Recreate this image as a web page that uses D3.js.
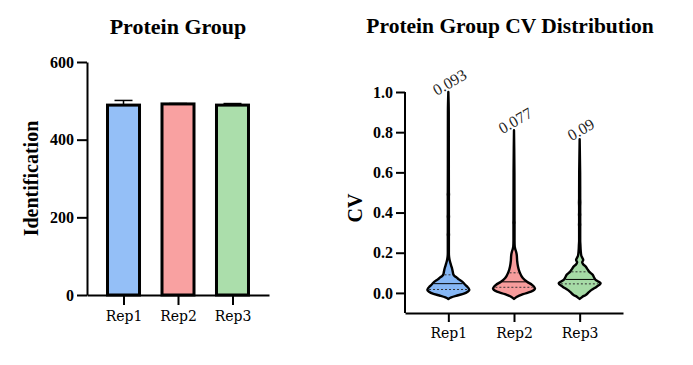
<!DOCTYPE html>
<html><head><meta charset="utf-8">
<script src="https://cdn.jsdelivr.net/npm/d3@7"></script>
<style>
html,body{margin:0;padding:0;background:#fff;}
svg{display:block;}
</style></head>
<body>
<svg id="chart" width="693" height="365"></svg>
<script>
// ---------------- data ----------------
const categories = ["Rep1", "Rep2", "Rep3"];
const barColors = ["#94BFF7", "#F9A1A1", "#ABDEAB"];
const violinColors = ["#86B7F5", "#F79C9C", "#A6DBA6"];

// Left panel: identified protein groups
const pgMeans = [489, 492, 489];
const pgErrors = [12, 1, 4];
const pgTicks = [0, 200, 400, 600];

// Right panel: CV distribution
const cvTicks = [0.0, 0.2, 0.4, 0.6, 0.8, 1.0];
const cvLabels = ["0.093", "0.077", "0.09"];
const cvMax = [1.0, 0.81, 0.765];
const cvMedian = [0.046, 0.055, 0.067];
const cvQ1 = [0.017, 0.028, 0.045];
const cvQ3 = [0.09, 0.1, 0.105];

// violin density profiles: [cv, relative density]
const densityRep1 = [[-0.03,0],[-0.022,14],[-0.013,42],[-0.004,74],[0.006,92],[0.015,100],[0.024,96],[0.031,90],[0.043,78],[0.056,66],[0.066,52],[0.076,40],[0.084,30],[0.092,24],[0.106,21],[0.12,18],[0.131,15],[0.148,10],[0.164,6],[0.18,3.5],[0.2,2.5],[0.28,2.5],[0.29,3.2],[0.3,2.5],[0.37,2.5],[0.38,3.2],[0.39,2.5],[0.48,2.5],[0.49,3.2],[0.5,2.5],[0.7,2.2],[0.9,2],[1.0,0]];
const densityRep2 = [[-0.03,0],[-0.02,12],[-0.006,43],[0.006,81],[0.023,100],[0.04,86],[0.056,62],[0.073,43],[0.085,35],[0.098,29],[0.115,23],[0.131,19],[0.16,15],[0.19,13],[0.205,10],[0.215,7],[0.23,3.5],[0.26,2.5],[0.34,2.5],[0.35,3],[0.36,2.5],[0.6,2],[0.81,0]];
const densityRep3 = [[-0.03,0],[-0.02,12],[-0.01,29],[0.005,45],[0.015,57],[0.031,81],[0.048,100],[0.058,86],[0.065,76],[0.078,68],[0.09,62],[0.106,45],[0.12,36],[0.131,29],[0.142,17],[0.152,12],[0.164,17],[0.174,13],[0.185,8],[0.21,5],[0.24,3.5],[0.26,2.5],[0.33,2.5],[0.34,3.2],[0.35,2.5],[0.38,2.5],[0.39,3.2],[0.4,2.5],[0.43,2.5],[0.45,3.2],[0.47,2.5],[0.5,2.5],[0.6,2.2],[0.765,0]];
const densities = [densityRep1, densityRep2, densityRep3];

// ---------------- drawing ----------------
const svg = d3.select("#chart");
svg.append("rect").attr("width", 693).attr("height", 365).attr("fill", "#fff");
const FONT = "Liberation Serif, Times New Roman, serif";
const CATFONT = "DejaVu Serif, serif";

function styleAxis(g) {
  g.attr("font-family", null).attr("font-size", null);
  g.selectAll(".domain").attr("stroke", "#000").attr("stroke-width", 2);
  g.selectAll(".tick line").attr("stroke", "#000").attr("stroke-width", 2);
}

// ===== Left panel =====
const L = {x0: 87, x1: 269, y0: 295, y1: 62};
const xL = d3.scalePoint().domain(categories).range([L.x0, L.x1]).padding(0.67);
const yL = d3.scaleLinear().domain([0, 600]).range([L.y0, L.y1]);
const barW = 32;

svg.append("text").attr("x", 178).attr("y", 34).attr("text-anchor", "middle")
  .style("font-family", FONT).style("font-weight", "bold").style("font-size", "22px")
  .text("Protein Group");

// error bars
const gErr = svg.append("g");
categories.forEach((c, i) => {
  const cx = xL(c);
  gErr.append("line").attr("x1", cx).attr("x2", cx)
    .attr("y1", yL(pgMeans[i])).attr("y2", yL(pgMeans[i] + pgErrors[i]))
    .attr("stroke", "#000").attr("stroke-width", 1.5);
  gErr.append("line").attr("x1", cx - 9).attr("x2", cx + 9)
    .attr("y1", yL(pgMeans[i] + pgErrors[i])).attr("y2", yL(pgMeans[i] + pgErrors[i]))
    .attr("stroke", "#000").attr("stroke-width", 1.5);
});

svg.append("g").selectAll("rect").data(categories).join("rect")
  .attr("x", c => xL(c) - barW / 2)
  .attr("y", (c, i) => yL(pgMeans[i]))
  .attr("width", barW)
  .attr("height", (c, i) => yL(0) - yL(pgMeans[i]))
  .attr("fill", (c, i) => barColors[i])
  .attr("stroke", "#000").attr("stroke-width", 3);

const axLY = svg.append("g").attr("transform", `translate(${L.x0},0)`)
  .call(d3.axisLeft(yL).tickValues(pgTicks).tickSize(10).tickPadding(3).tickSizeOuter(0));
styleAxis(axLY);
axLY.selectAll(".tick text").style("font-family", FONT).style("font-weight", "bold")
  .style("font-size", "16px").attr("fill", "#000");

const axLX = svg.append("g").attr("transform", `translate(0,${L.y0})`)
  .call(d3.axisBottom(xL).tickSize(10).tickPadding(6).tickSizeOuter(0));
styleAxis(axLX);
axLX.selectAll(".tick text").style("font-family", CATFONT)
  .style("font-size", "14px").attr("fill", "#000");

svg.append("text").attr("transform", `translate(38,${(L.y0 + L.y1) / 2}) rotate(-90)`)
  .attr("text-anchor", "middle").style("font-family", FONT).style("font-weight", "bold")
  .style("font-size", "20px").text("Identification");

// ===== Right panel =====
const R = {x0: 405, x1: 623, y0: 313, y1: 92};
const xR = d3.scalePoint().domain(categories).range([R.x0, R.x1]).padding(0.66);
const yR = d3.scaleLinear().domain([-0.1, 1.0]).range([R.y0, R.y1]);
const wR = d3.scaleLinear().domain([0, 100]).range([0, 21]);

svg.append("text").attr("x", 510).attr("y", 33).attr("text-anchor", "middle")
  .style("font-family", FONT).style("font-weight", "bold").style("font-size", "21.5px")
  .text("Protein Group CV Distribution");

function widthAt(prof, v) {
  for (let k = 0; k < prof.length - 1; k++) {
    const a = prof[k], b = prof[k + 1];
    if (v >= a[0] && v <= b[0]) return a[1] + (b[1] - a[1]) * (v - a[0]) / (b[0] - a[0]);
  }
  return 0;
}

categories.forEach((c, i) => {
  const cx = xR(c);
  const prof = densities[i];
  const area = d3.area()
    .y(d => yR(d[0]))
    .x0(d => cx - wR(d[1]))
    .x1(d => cx + wR(d[1]))
    .curve(d3.curveMonotoneY);
  const g = svg.append("g");
  g.append("path").attr("d", area(prof))
    .attr("fill", violinColors[i]).attr("stroke", "#000")
    .attr("stroke-width", 2.4).attr("stroke-linejoin", "round");
  [cvQ1[i], cvQ3[i]].forEach(q => {
    const hw = wR(widthAt(prof, q)) - 1.5;
    g.append("line").attr("x1", cx - hw).attr("x2", cx + hw)
      .attr("y1", yR(q)).attr("y2", yR(q))
      .attr("stroke", "#333").attr("stroke-width", 1).attr("stroke-dasharray", "2,2");
  });
  const hm = wR(widthAt(prof, cvMedian[i])) - 1.5;
  g.append("line").attr("x1", cx - hm).attr("x2", cx + hm)
    .attr("y1", yR(cvMedian[i])).attr("y2", yR(cvMedian[i]))
    .attr("stroke", "#000").attr("stroke-width", 1);
  g.append("text")
    .attr("transform", `translate(${cx + 4},${yR(cvMax[i]) - 5}) rotate(-30)`)
    .attr("text-anchor", "middle").style("font-family", FONT)
    .style("font-size", "16px").attr("fill", "#222").text(cvLabels[i]);
});

const axRY = svg.append("g").attr("transform", `translate(${R.x0},0)`)
  .call(d3.axisLeft(yR).tickValues(cvTicks).tickFormat(d3.format(".1f")).tickSize(9).tickPadding(3).tickSizeOuter(0));
styleAxis(axRY);
axRY.select(".domain").attr("d", `M0,${yR(1.0)}V${R.y0}`);
axRY.selectAll(".tick text").style("font-family", FONT).style("font-weight", "bold")
  .style("font-size", "16px").attr("fill", "#000");

const axRX = svg.append("g").attr("transform", `translate(0,${R.y0})`)
  .call(d3.axisBottom(xR).tickSize(9).tickPadding(6).tickSizeOuter(0));
styleAxis(axRX);
axRX.selectAll(".tick text").style("font-family", CATFONT)
  .style("font-size", "14px").attr("fill", "#000");

svg.append("text").attr("transform", `translate(362,208) rotate(-90)`)
  .attr("text-anchor", "middle").style("font-family", FONT).style("font-weight", "bold")
  .style("font-size", "20px").text("CV");
</script>
</body></html>
